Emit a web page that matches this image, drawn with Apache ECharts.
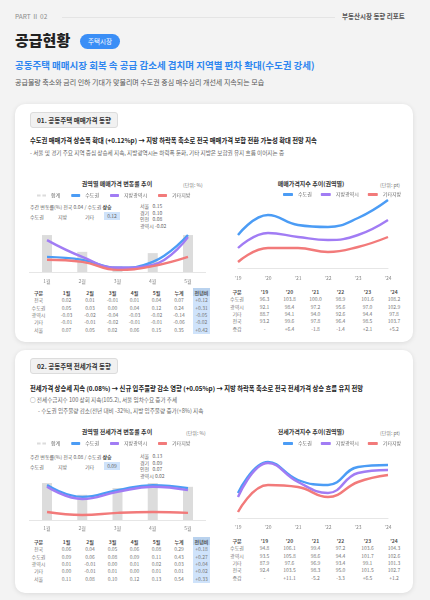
<!DOCTYPE html>
<html><head><meta charset="utf-8">
<script src="https://cdn.jsdelivr.net/npm/echarts/dist/echarts.min.js"></script>
<style>
*{margin:0;padding:0;box-sizing:border-box}
body{width:430px;height:600px;background:#f3f3f3;font-family:"Noto Sans CJK KR","Noto Sans",sans-serif;position:relative;overflow:hidden}
.a{position:absolute;white-space:nowrap}
.card{position:absolute;left:15px;width:398px;background:#fff;border-radius:10px;box-shadow:0 1px 5px rgba(0,0,0,0.10)}
.tbox{position:absolute;background:#f1f1f1;border:1px solid #dcdcdc;border-radius:3px;font-size:6.5px;font-weight:bold;color:#333;line-height:14px;padding:0 6px;white-space:nowrap}
.ct{font-size:6px;font-weight:bold;color:#333}
.un{font-size:5px;color:#777}
.sm{font-size:5px;color:#666;line-height:7px}
.cell{position:absolute;text-align:center;font-size:5px;color:#777;white-space:nowrap}
#ch{position:absolute;left:0;top:0;width:430px;height:600px;z-index:5}
</style></head>
<body>
<!-- header -->
<div class="a" style="left:15px;top:12px;font-size:6.5px;color:#8a8a8a;line-height:9px">PART Ⅱ 02</div>
<div class="a" style="left:62px;top:17px;width:273px;height:1px;background:#e4e4e4"></div>
<div class="a" style="left:342px;top:12px;font-size:6.5px;color:#555;font-weight:bold;line-height:9px">부동산시장 동향 리포트</div>
<div class="a" style="left:15px;top:30px;font-size:15px;font-weight:900;color:#222;line-height:20px">공급현황</div>
<div class="a" style="left:80px;top:34px;width:40px;height:15px;border-radius:8px;background:#3a8ef6;color:#fff;font-size:6.5px;line-height:15px;text-align:center">주택시장</div>
<div class="a" style="left:15px;top:59px;font-size:9.5px;font-weight:bold;color:#2e86f0;line-height:12px">공동주택 매매시장 회복 속 공급 감소세 겹치며 지역별 편차 확대(수도권 강세)</div>
<div class="a" style="left:15px;top:78px;font-size:7px;color:#555;line-height:9px">공급물량 축소와 금리 인하 기대가 맞물리며 수도권 중심 매수심리 개선세 지속되는 모습</div>

<!-- card 1 -->
<div class="card" style="top:104px;height:238px"></div>
<div class="tbox" style="left:30px;top:112px;height:16px">01. 공동주택 매매가격 동향</div>
<div class="a" style="left:30px;top:137px;font-size:6.3px;font-weight:bold;color:#222;line-height:8px">수도권 매매가격 상승폭 확대 (+0.12%p) → 지방 하락폭 축소로 전국 매매가격 보합 전환 가능성 확대 전망 지속</div>
<div class="a" style="left:30px;top:150px;font-size:5.6px;color:#666;line-height:7px">- 서울 및 경기 주요 지역 중심 상승세 지속, 지방광역시는 하락폭 둔화, 기타 지방은 보합권 유지 흐름 이어지는 중</div>

<div class="a ct" style="left:117px;top:179px;transform:translateX(-50%)">권역별 매매가격 변동률 추이</div>
<div class="a un" style="left:183px;top:181px">(단위: %)</div>
<div class="a sm" style="left:30px;top:203px">주간 변동률(%) 전국 0.04 / 수도권 <b style="color:#333">상승</b></div>
<div class="a sm" style="left:30px;top:213px">수도권</div>
<div class="a sm" style="left:58px;top:213px">지방</div>
<div class="a sm" style="left:85px;top:213px">기타</div>
<div class="a sm" style="left:104px;top:212px;width:16px;height:8px;background:#cfe3fb;text-align:center;line-height:8px">0.12</div>
<div class="a sm" style="left:140px;top:203px;line-height:6.5px">서울 &nbsp;&nbsp;0.15<br>경기 &nbsp;&nbsp;0.10<br>인천 &nbsp;&nbsp;0.08<br>광역시 -0.02</div>

<div class="a ct" style="left:311px;top:179px;transform:translateX(-50%)">매매가격지수 추이(권역별)</div>
<div class="a un" style="left:380px;top:181px">(단위: pt)</div>

<!-- card 2 -->
<div class="card" style="top:350px;height:243px"></div>
<div class="tbox" style="left:30px;top:358px;height:16px">02. 공동주택 전세가격 동향</div>
<div class="a" style="left:30px;top:385px;font-size:6.3px;font-weight:bold;color:#222;line-height:8px">전세가격 상승세 지속 (0.08%) → 신규 입주물량 감소 영향 (+0.05%p) → 지방 하락폭 축소로 전국 전세가격 상승 흐름 유지 전망</div>
<div class="a" style="left:30px;top:397px;font-size:5.6px;color:#666;line-height:7px">○ 전세수급지수 100 상회 지속(105.2), 서울 임차수요 증가 추세</div>
<div class="a" style="left:38px;top:408px;font-size:5.6px;color:#666;line-height:7px">- 수도권 입주물량 감소(전년 대비 -32%), 지방 입주물량 증가(+8%) 지속</div>

<div class="a ct" style="left:117px;top:427px;transform:translateX(-50%)">권역별 전세가격 변동률 추이</div>
<div class="a un" style="left:186px;top:429px">(단위: %)</div>
<div class="a sm" style="left:30px;top:453px">주간 변동률(%) 전국 0.08 / 수도권 <b style="color:#333">상승</b></div>
<div class="a sm" style="left:30px;top:463px">수도권</div>
<div class="a sm" style="left:58px;top:463px">지방</div>
<div class="a sm" style="left:85px;top:463px">기타</div>
<div class="a sm" style="left:104px;top:462px;width:16px;height:8px;background:#cfe3fb;text-align:center;line-height:8px">0.09</div>
<div class="a sm" style="left:140px;top:453px;line-height:6.5px">서울 &nbsp;&nbsp;0.13<br>경기 &nbsp;&nbsp;0.09<br>인천 &nbsp;&nbsp;0.07<br>광역시 0.02</div>

<div class="a ct" style="left:311px;top:427px;transform:translateX(-50%)">전세가격지수 추이(권역별)</div>
<div class="a un" style="left:380px;top:429px">(단위: pt)</div>

<div id="tables"></div>
<div id="ch"></div>

<script>
// ---------- data ----------
const monthCats = ['1월','2월','3월','4월','5월'];
const yearCats = ["'19","'20","'21","'22","'23","'24"];

// card 1 left (bars + lines)
const saleTotal = [88,48,14,45,88];
const saleMetro = [36,29,10,24,88];
const saleCity = [76,36,10,17,83];
const saleOther = [29,24,5,14,36];
// card 1 right (index lines)
const saleIdxMetro = [33,53,43,41,50,68];
const saleIdxCity = [20,35,31,28,33,48];
const saleIdxOther = [6,20,20,16,21,31];
// card 2 left
const rentTotal = [88,60,76,88,79];
const rentMetro = [83,55,71,83,76];
const rentCity = [79,50,67,79,71];
const rentOther = [19,12,17,19,17];
// card 2 right
const rentIdxMetro = [25,56,38,33,51,53];
const rentIdxCity = [21,55,36,25,45,48];
const rentIdxOther = [6,33,31,21,36,43];

// tables
const leftHead = ['구분','1월','2월','3월','4월','5월','누계','전년비'];
const saleLeftRows = [
 ['전국','0.02','0.01','-0.01','0.01','0.04','0.07','+0.12'],
 ['수도권','0.05','0.03','0.00','0.04','0.12','0.24','+0.31'],
 ['광역시','-0.03','-0.02','-0.04','-0.03','-0.02','-0.14','-0.05'],
 ['기타','-0.01','-0.01','-0.02','-0.01','-0.01','-0.06','-0.02'],
 ['서울','0.07','0.05','0.02','0.06','0.15','0.35','+0.42']
];
const rentLeftRows = [
 ['전국','0.06','0.04','0.05','0.06','0.08','0.29','+0.18'],
 ['수도권','0.09','0.06','0.08','0.09','0.11','0.43','+0.27'],
 ['광역시','0.01','-0.01','0.00','0.01','0.02','0.03','+0.04'],
 ['기타','0.00','-0.01','0.01','0.00','0.01','0.01','+0.02'],
 ['서울','0.11','0.08','0.10','0.12','0.13','0.54','+0.33']
];
const rightHead = ['구분',"'19","'20","'21","'22","'23","'24"];
const saleRightRows = [
 ['수도권','96.3','103.8','100.0','98.9','101.6','108.2'],
 ['광역시','92.1','98.4','97.2','95.6','97.0','102.9'],
 ['기타','88.7','94.1','94.0','92.6','94.4','97.8'],
 ['전국','93.2','99.6','97.8','96.4','98.5','103.7'],
 ['증감','-','+6.4','-1.8','-1.4','+2.1','+5.2']
];
const rentRightRows = [
 ['수도권','94.8','106.1','99.4','97.2','103.6','104.3'],
 ['광역시','93.5','105.8','98.6','94.4','101.7','102.6'],
 ['기타','87.9','97.6','96.9','93.4','99.1','101.3'],
 ['전국','92.4','103.5','98.3','95.0','101.5','102.7'],
 ['증감','-','+11.1','-5.2','-3.3','+6.5','+1.2']
];

// ---------- tables (text) ----------
const leftCols = [[27,23],[56,21],[79,22],[102,21],[124,21],[146,21],[168,22],[193,17]];
const rightCols = [[226,22],[254,21],[279,21],[305,21],[330,21],[357,21],[383,22]];
function buildTable(top, head, rows, cols, blueLast){
  const host = document.getElementById('tables');
  const lh = 7.3;
  cols.forEach((c,ci)=>{
    if(blueLast && ci===cols.length-1){
      const bg=document.createElement('div');
      bg.style.cssText=`position:absolute;left:${c[0]}px;top:${top}px;width:${c[1]}px;height:${lh*(rows.length+1)+2}px;background:#cfe3fb;`;
      host.appendChild(bg);
      const hb=document.createElement('div');
      hb.style.cssText=`position:absolute;left:${c[0]}px;top:${top}px;width:${c[1]}px;height:${lh+1}px;background:#b9d2ee;`;
      host.appendChild(hb);
    }
    const lines=[head[ci]].concat(rows.map(r=>r[ci]));
    lines.forEach((t,ri)=>{
      const d=document.createElement('div');
      d.className='cell';
      d.style.left=c[0]+'px'; d.style.width=c[1]+'px';
      d.style.top=(top+1+ri*lh)+'px'; d.style.lineHeight=lh+'px';
      if(ri===0){d.style.fontWeight='bold';d.style.color='#555';}
      d.textContent=t;
      host.appendChild(d);
    });
  });
}
buildTable(288, leftHead, saleLeftRows, leftCols, true);
buildTable(287, rightHead, saleRightRows, rightCols, false);
buildTable(537, leftHead, rentLeftRows, leftCols, true);
buildTable(536, rightHead, rentRightRows, rightCols, false);

// ---------- chart ----------
const COL = {blue:'#4b9cf5', purple:'#a17cf4', red:'#f27a7a', gray:'#d6d6d6'};
const chart = echarts.init(document.getElementById('ch'), null, {renderer:'canvas'});
function lineS(name, data, idx, col){
  return {type:'line', name, data, xAxisIndex:idx, yAxisIndex:idx, smooth:0.45, showSymbol:false,
    lineStyle:{width:2.4, color:col}, itemStyle:{color:col}, z:3};
}
function barS(name, data, idx){
  return {type:'bar', name, data, xAxisIndex:idx, yAxisIndex:idx, barWidth:10,
    itemStyle:{color:COL.gray, opacity:0.85}, z:2};
}
function xAx(idx, cats, gap, margin){
  return {gridIndex:idx, type:'category', data:cats, boundaryGap:gap,
    axisLine:{show:true, lineStyle:{color:'#e6e6e6'}}, axisTick:{show:false},
    axisLabel:{fontSize:5, color:'#888', margin:margin, fontFamily:'Noto Sans CJK KR'}};
}
function yAx(idx, max){ return {gridIndex:idx, type:'value', min:0, max:max, show:false}; }
const legText = {fontSize:5, color:'#666', fontFamily:'Noto Sans CJK KR'};
const dashIcon = 'path://M0 0H4V2H0Z M6 0H10V2H6Z';
chart.setOption({
  animation:false,
  grid:[
    {left:29.4, top:230, width:176.2, height:42},
    {left:238, top:198, width:150, height:70},
    {left:29.4, top:478, width:176.2, height:42},
    {left:238, top:455, width:150, height:63}
  ],
  xAxis:[xAx(0,monthCats,true,7), xAx(1,yearCats,false,8), xAx(2,monthCats,true,6), xAx(3,yearCats,false,7)],
  yAxis:[yAx(0,100), yAx(1,70), yAx(2,100), yAx(3,63)],
  legend:[
    {data:[{name:'합계',icon:dashIcon},'수도권','지방광역시','기타지방'], left:37, top:193, icon:'roundRect',
     itemWidth:9, itemHeight:3, itemGap:11, padding:0, textStyle:legText},
    {data:['수도권','지방광역시','기타지방'], left:283, top:192, icon:'roundRect',
     itemWidth:10, itemHeight:3, itemGap:9, padding:0, textStyle:legText},
    {data:[{name:'합계',icon:dashIcon},'수도권','지방광역시','기타지방'], left:37, top:441, icon:'roundRect',
     itemWidth:9, itemHeight:3, itemGap:11, padding:0, textStyle:legText},
    {data:['수도권','지방광역시','기타지방'], left:283, top:441, icon:'roundRect',
     itemWidth:10, itemHeight:3, itemGap:9, padding:0, textStyle:legText}
  ],
  series:[
    barS('합계', saleTotal, 0),
    lineS('수도권', saleMetro, 0, COL.blue),
    lineS('지방광역시', saleCity, 0, COL.purple),
    lineS('기타지방', saleOther, 0, COL.red),
    lineS('수도권', saleIdxMetro, 1, COL.blue),
    lineS('지방광역시', saleIdxCity, 1, COL.purple),
    lineS('기타지방', saleIdxOther, 1, COL.red),
    barS('합계', rentTotal, 2),
    lineS('수도권', rentMetro, 2, COL.blue),
    lineS('지방광역시', rentCity, 2, COL.purple),
    lineS('기타지방', rentOther, 2, COL.red),
    lineS('수도권', rentIdxMetro, 3, COL.blue),
    lineS('지방광역시', rentIdxCity, 3, COL.purple),
    lineS('기타지방', rentIdxOther, 3, COL.red)
  ]
});
</script>
</body></html>
